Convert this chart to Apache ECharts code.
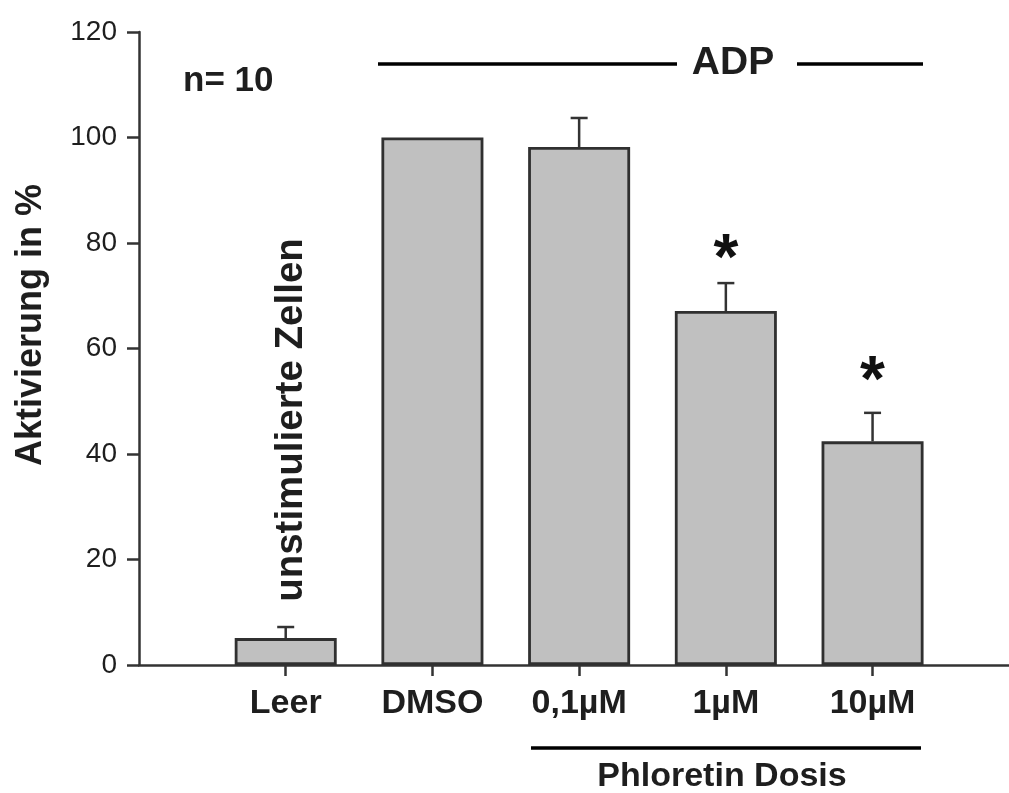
<!DOCTYPE html>
<html>
<head>
<meta charset="utf-8">
<script src="https://cdn.jsdelivr.net/npm/echarts@6/dist/echarts.min.js"></script>
<style>
html,body{margin:0;padding:0;background:#fff;}
#c{width:1009px;height:793px;}
</style>
</head>
<body>
<div id="c"></div>
<script>
// ---- data ----
var categories = ['Leer', 'DMSO', '0,1\u00b5M', '1\u00b5M', '10\u00b5M'];
var barValues = [5.1, 100, 98.2, 67.1, 42.4];
var errValues = [2.1, 0, 5.5, 5.3, 5.4];
var sigMarkY = [null, null, null, 79.6, 56.5];
var yTicks = [0, 20, 40, 60, 80, 100, 120];

var FONT = '"Liberation Sans", Arial, Helvetica, sans-serif';
var TXT = '#1e1e1e';
var AX = '#333333';

var xPos = categories.map(function (c, i) { return i + 1; });
var barData = barValues.map(function (v, i) { return [xPos[i], v]; });
var errData = barValues.map(function (v, i) { return [xPos[i], v, errValues[i]]; });
var sigData = [];
sigMarkY.forEach(function (v, i) { if (v != null) sigData.push([xPos[i], v]); });

var chart = echarts.init(document.getElementById('c'), null, {renderer: 'canvas'});
var option = {
  animation: false,
  backgroundColor: '#ffffff',
  grid: {left: 139, right: 0, top: 32, bottom: 128, outerBoundsMode: 'none', containLabel: false},
  xAxis: {
    type: 'value',
    min: 0,
    max: 5.93,
    interval: 1,
    splitLine: {show: false},
    axisLine: {show: true, lineStyle: {color: AX, width: 2.5}},
    axisTick: {show: true, customValues: xPos, length: 11, lineStyle: {color: AX, width: 2.5}},
    axisLabel: {
      show: true, customValues: xPos, margin: 22,
      fontFamily: FONT, fontSize: 34, fontWeight: 'bold', color: TXT,
      formatter: function (v) { return categories[Math.round(v) - 1] || ''; }
    }
  },
  yAxis: {
    type: 'value',
    min: yTicks[0],
    max: yTicks[yTicks.length - 1],
    interval: 20,
    splitLine: {show: false},
    axisLine: {show: true, lineStyle: {color: AX, width: 2.5}},
    axisTick: {show: true, length: 12, lineStyle: {color: AX, width: 2.5}},
    axisLabel: {margin: 22, fontFamily: FONT, fontSize: 28, color: TXT}
  },
  series: [
    {
      type: 'bar',
      data: barData,
      barWidth: 102,
      itemStyle: {color: '#c0c0c0', borderColor: '#303030', borderWidth: 2.8},
      z: 2
    },
    {
      type: 'custom',
      data: errData,
      z: 3,
      renderItem: function (params, api) {
        var x = api.value(0), v = api.value(1), e = api.value(2);
        if (!e) return null;
        var p0 = api.coord([x, v]);
        var p1 = api.coord([x, v + e]);
        var st = {stroke: AX, lineWidth: 2.5};
        return {
          type: 'group',
          children: [
            {type: 'line', shape: {x1: p0[0], y1: p0[1], x2: p1[0], y2: p1[1]}, style: st},
            {type: 'line', shape: {x1: p1[0] - 8.5, y1: p1[1], x2: p1[0] + 8.5, y2: p1[1]}, style: st}
          ]
        };
      }
    },
    {
      type: 'custom',
      data: sigData,
      z: 4,
      renderItem: function (params, api) {
        var p = api.coord([api.value(0), api.value(1)]);
        return {
          type: 'text',
          x: p[0], y: p[1] + 16,
          style: {text: '*', fontFamily: FONT, fontWeight: 'bold', fontSize: 64, fill: '#111',
                  align: 'center', verticalAlign: 'middle'}
        };
      }
    }
  ],
  graphic: [
    {type: 'text', x: 31, y: 325, rotation: Math.PI / 2,
     style: {text: 'Aktivierung in %', fontFamily: FONT, fontWeight: 'bold', fontSize: 36, fill: TXT, align: 'center', verticalAlign: 'middle'}},
    {type: 'text', x: 183, y: 81,
     style: {text: 'n= 10', fontFamily: FONT, fontWeight: 'bold', fontSize: 35, fill: TXT, align: 'left', verticalAlign: 'middle'}},
    {type: 'text', x: 291, y: 420, rotation: Math.PI / 2,
     style: {text: 'unstimulierte Zellen', fontFamily: FONT, fontWeight: 'bold', fontSize: 38.5, fill: TXT, align: 'center', verticalAlign: 'middle'}},
    {type: 'line', shape: {x1: 378, y1: 64, x2: 677, y2: 64}, style: {stroke: '#000', lineWidth: 3.5}},
    {type: 'line', shape: {x1: 797, y1: 64, x2: 923, y2: 64}, style: {stroke: '#000', lineWidth: 3.5}},
    {type: 'text', x: 733, y: 63,
     style: {text: 'ADP', fontFamily: FONT, fontWeight: 'bold', fontSize: 39, fill: TXT, align: 'center', verticalAlign: 'middle'}},
    {type: 'line', shape: {x1: 531, y1: 748, x2: 921, y2: 748}, style: {stroke: '#000', lineWidth: 3.5}},
    {type: 'text', x: 722, y: 777,
     style: {text: 'Phloretin Dosis', fontFamily: FONT, fontWeight: 'bold', fontSize: 34, fill: TXT, align: 'center', verticalAlign: 'middle'}}
  ]
};
chart.setOption(option);
</script>
</body>
</html>
